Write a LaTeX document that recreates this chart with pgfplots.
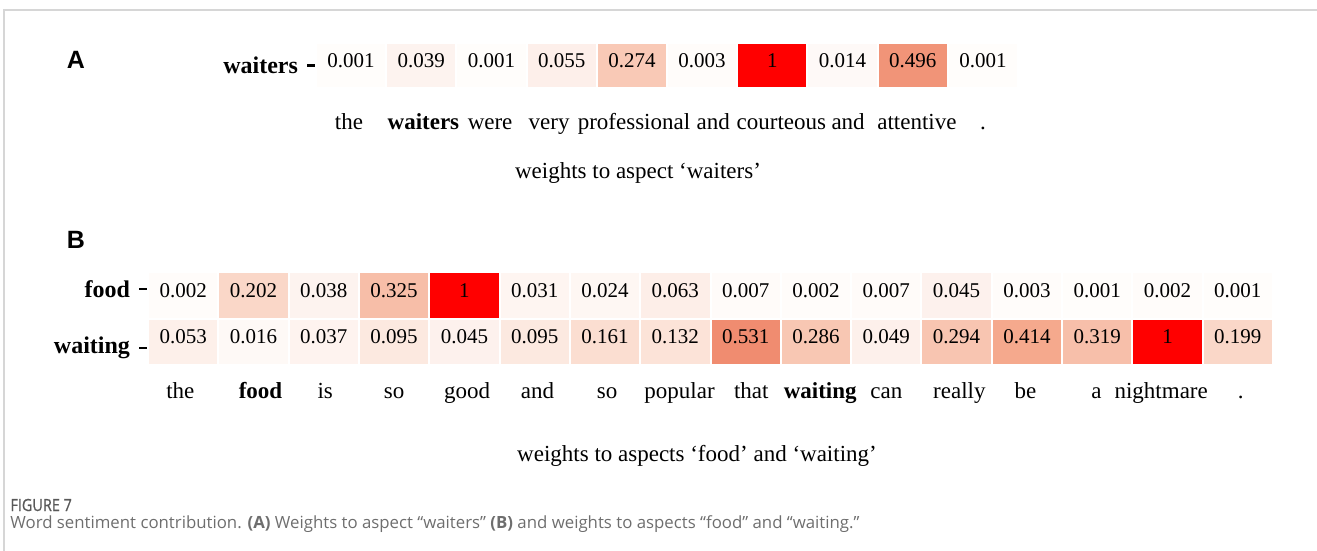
\documentclass[border=0pt]{standalone}
\usepackage{fontspec}
\setmainfont{Liberation Serif}
\newfontfamily\capfont{Open Sans}
\newfontfamily\figfont[FakeStretch=0.86, FakeBold=0.6]{Open Sans}
\newfontfamily\letterfont{Liberation Sans}
\usepackage{pgfplots}
\pgfplotsset{compat=1.18}
\usepackage{pgfplotstable}

\pgfplotsset{colormap={attn}{rgb255(0pt)=(255,253,251) rgb255(5pt)=(253,240,235) rgb255(13pt)=(252,227,216) rgb255(20pt)=(250,215,200) rgb255(30pt)=(248,196,176) rgb255(41pt)=(245,170,142) rgb255(53pt)=(240,140,112) rgb255(100pt)=(255,0,0)}}

\pgfplotstableread{
x y v
0 0 0.001
1 0 0.039
2 0 0.001
3 0 0.055
4 0 0.274
5 0 0.003
6 0 1
7 0 0.014
8 0 0.496
9 0 0.001
}\dataA

\pgfplotstableread{
x y v
0 0 0.002
1 0 0.202
2 0 0.038
3 0 0.325
4 0 1
5 0 0.031
6 0 0.024
7 0 0.063
8 0 0.007
9 0 0.002
10 0 0.007
11 0 0.045
12 0 0.003
13 0 0.001
14 0 0.002
15 0 0.001
0 1 0.053
1 1 0.016
2 1 0.037
3 1 0.095
4 1 0.045
5 1 0.095
6 1 0.161
7 1 0.132
8 1 0.531
9 1 0.286
10 1 0.049
11 1 0.294
12 1 0.414
13 1 0.319
14 1 1
15 1 0.199
}\dataB

\definecolor{framegray}{RGB}{214,214,214}
\definecolor{capgray}{RGB}{110,110,110}

\pgfplotsset{
  heatstyle/.style={
    scale only axis, clip=false,
    axis line style={draw=none},
    tick align=outside, major tick length=4.5pt,
    ytick pos=left,
    xtick style={draw=none},
    ytick style={black, line width=1.1pt},
    colormap name=attn, point meta min=0, point meta max=1,
    /pgf/number format/fixed, /pgf/number format/precision=3,
    /pgf/number format/assume math mode=true,
    xticklabel style={font=\fontsize{11.5}{12}\selectfont, anchor=base},
    yticklabel style={font=\bfseries\fontsize{12}{12}\selectfont, xshift=-1pt},
  },
  cellstyle/.style={
    scatter, only marks, mark=square*,
    scatter/use mapped color={draw=white, fill=mapped color},
    point meta=explicit,
    nodes near coords*, nodes near coords align={center},
    every node near coord/.append style={text=black, yshift=2.5pt, font=\fontsize{10.5}{11}\selectfont},
  },
}

\begin{document}
\begin{tikzpicture}
\useasboundingbox (0,0) rectangle (658.5pt,-275.5pt);
\draw[framegray, line width=0.8pt] (2pt,-276pt) -- (2pt,-5pt) -- (659pt,-5pt);

\node[font=\letterfont\bfseries\fontsize{12.5}{13}\selectfont] at (38pt,-30pt) {A};
\node[font=\letterfont\bfseries\fontsize{12.5}{13}\selectfont] at (38pt,-120pt) {B};

\begin{axis}[heatstyle,
  at={(158pt,-21.5pt)}, anchor=north west,
  width=351pt, height=22.5pt,
  xmin=-0.5, xmax=9.5, ymin=-0.5, ymax=0.5,
  xtick={-0.03,1.03,1.98,2.82,4.03,5.16,6.13,7.08,8.06,9.0},
  xticklabels={the,\textbf{waiters},were,very,professional,and,courteous,and,attentive,.},
  xticklabel style={yshift=-16pt},
  ytick={0}, yticklabels={waiters},
]
\addplot[cellstyle, mark size=11.25pt, mark options={xscale=1.56, line width=1pt}]
  table[x=x, y=y, meta=v] {\dataA};
\end{axis}

\begin{axis}[heatstyle,
  at={(74pt,-136pt)}, anchor=north west,
  width=562.5pt, height=46.5pt,
  y dir=reverse,
  xmin=-0.5, xmax=15.5, ymin=-0.5, ymax=1.5,
  xtick={-0.04,1.10,2.02,3.0,4.04,5.04,6.03,7.06,8.08,9.06,10.0,11.04,11.98,12.99,13.91,15.04},
  xticklabels={the,\textbf{food},is,so,good,and,so,popular,that,\textbf{waiting},can,really,be,a,nightmare,.},
  xticklabel style={yshift=-12pt},
  ytick={-0.13,1.13}, yticklabels={food,waiting},
]
\addplot[cellstyle, mark size=11.625pt, mark options={xscale=1.512, line width=1pt}]
  table[x=x, y=y, meta=v] {\dataB};
\end{axis}

\node[font=\fontsize{11.5}{12}\selectfont] at (319pt,-86.5pt) {weights to aspect ‘waiters’};
\node[font=\fontsize{11.5}{12}\selectfont] at (348.5pt,-228pt) {weights to aspects ‘food’ and ‘waiting’};

\node[anchor=base west, inner sep=0pt, text=capgray!80!black, font=\figfont\fontsize{8.4}{9}\selectfont] at (5pt,-255.5pt) {FIGURE 7};
\node[anchor=base west, inner sep=0pt, text=capgray, font=\capfont\fontsize{8.4}{9}\selectfont] at (5pt,-264pt) {Word sentiment contribution. \textbf{(A)} Weights to aspect “waiters” \textbf{(B)} and weights to aspects “food” and “waiting.”};
\end{tikzpicture}
\end{document}
